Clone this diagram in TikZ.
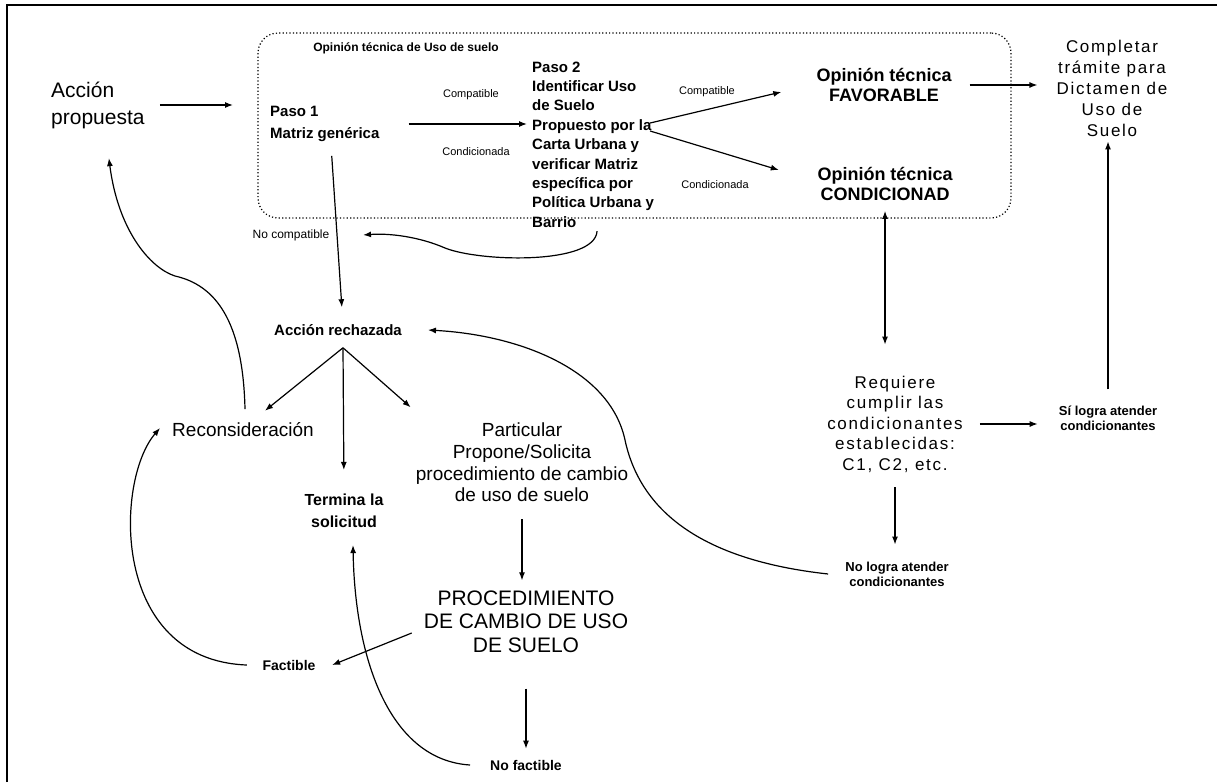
\documentclass[tikz,border=0pt]{standalone}
\usepackage{fontspec}
\setmainfont{Liberation Sans}
\newfontfamily\spacedfont[LetterSpace=10]{Liberation Sans}
\usetikzlibrary{arrows.meta,positioning}

\begin{document}
\begin{tikzpicture}[x=1pt,y=-1pt,
  lbl/.style={inner sep=0pt,align=center},
  boldlbl/.style={lbl,font=\fontsize{15}{19.4}\selectfont\bfseries},
  small/.style={lbl,font=\fontsize{11}{13}\selectfont},
  spaced/.style={lbl,font={\spacedfont\fontsize{17}{20.5}\selectfont}},
  arr/.style={-{Latex[length=8pt,width=6pt]},line width=1.2pt},
  dblarr/.style={{Latex[length=8pt,width=6pt]}-{Latex[length=8pt,width=6pt]},line width=1.2pt},
]
  \useasboundingbox (0,0) rectangle (1217,782);
  % frame
  \draw[line width=1.6pt] (7,782) -- (7,5) -- (1217,5);

  % Opinion tecnica box
  \node[draw,line width=1.2pt,dash pattern={on 1.2pt off 2.2pt},rounded corners=20pt,
    minimum width=753pt,minimum height=185pt,inner sep=0pt] (tecnica) at (634.5,125.5) {};
  \node[lbl,font=\fontsize{12}{14}\selectfont\bfseries] (titulo) at (406,48) {Opinión técnica de Uso de suelo};

  % Left column
  \node[lbl,anchor=west,align=left,font=\fontsize{21}{27}\selectfont] (accion) at (51,105) {Acción\\propuesta};
  \node[lbl,anchor=west,align=left,font=\fontsize{15}{22}\selectfont\bfseries] (paso1) at (270,124) {Paso 1\\Matriz genérica};
  \node[boldlbl,anchor=west,align=left] (paso2) at (532,144.5) {Paso 2\\Identificar Uso\\de Suelo\\Propuesto por la\\Carta Urbana y\\verificar Matriz\\específica por\\Política Urbana y\\Barrio};

  % Labels on the arrows
  \node[small] (compat1) at (471,95) {Compatible};
  \node[small] (condic1) at (476,152) {Condicionada};
  \node[small] (compat2) at (707,92) {Compatible};
  \node[small] (condic2) at (715,185) {Condicionada};
  \node[lbl,font=\fontsize{12}{14}\selectfont] (nocompat) at (291,235) {No compatible};

  % Results of the opinion
  \node[lbl,font=\fontsize{18}{20}\selectfont\bfseries] (favorable) at (884,85) {Opinión técnica\\FAVORABLE};
  \node[lbl,font=\fontsize{18}{20}\selectfont\bfseries] (condicionada) at (885,184) {Opinión técnica\\CONDICIONAD};
  \node[lbl,font={\spacedfont\fontsize{17}{21}\selectfont}] (completar) at (1112,88) {Completar\\trámite para\\Dictamen de\\Uso de\\Suelo};

  % Conditions
  \node[spaced] (requiere) at (895,424) {Requiere\\cumplir las\\condicionantes\\establecidas:\\C1, C2, etc.};
  \node[lbl,font=\fontsize{13}{15}\selectfont\bfseries] (silogra) at (1108,418) {Sí logra atender\\condicionantes};
  \node[lbl,font=\fontsize{13}{15}\selectfont\bfseries] (nologra) at (897,574) {No logra atender\\condicionantes};

  % Rejected action
  \node[boldlbl] (rechazada) at (338,330) {Acción rechazada};
  \node[lbl,font=\fontsize{19}{22}\selectfont] (recons) at (243,430) {Reconsideración};
  \node[lbl,font=\fontsize{16}{22}\selectfont\bfseries] (termina) at (344,511) {Termina la\\solicitud};
  \node[lbl,font=\fontsize{19}{21.7}\selectfont] (particular) at (522,462.5) {Particular\\Propone/Solicita\\procedimiento de cambio\\de uso de suelo};
  \node[lbl,font=\fontsize{21}{23.5}\selectfont] (procedimiento) at (526,621.5) {PROCEDIMIENTO\\DE CAMBIO DE USO\\DE SUELO};
  \node[lbl,font=\fontsize{14}{16}\selectfont\bfseries] (factible) at (289,665) {Factible};
  \node[lbl,font=\fontsize{14}{16}\selectfont\bfseries] (nofactible) at (526,765) {No factible};

  % Arrows, top part
  \draw[arr,shorten <=15pt,shorten >=37pt] (accion.east) -- (accion.east -| paso1.west);
  \draw[arr,shorten <=29pt,shorten >=5pt] (paso1.east) -- (paso1.east -| paso2.west);
  \draw[arr] ([xshift=-4pt,yshift=21.5pt]paso2.east) -- ([xshift=-35pt,yshift=-7pt]favorable.west);
  \draw[arr] ([xshift=-4pt,yshift=13.5pt]paso2.east) -- ([xshift=-38.5pt,yshift=14pt]condicionada.west);
  \draw[arr,shorten <=18pt,shorten >=19pt] (favorable.east) -- (favorable.east -| completar.west);
  \draw[arr] ([xshift=4pt,yshift=-3.5pt]paso2.south) .. controls (595,265) and (480,262) .. (445,248)
    .. controls (420,237) and (390,233) .. ([xshift=33.5pt]nocompat.east);
  \draw[arr,shorten <=14pt,shorten >=17pt] ([xshift=6pt]paso1.south) -- ([xshift=5pt]rechazada.north);

  % Arrows, conditions
  \draw[dblarr,shorten <=10pt,shorten >=31pt] (condicionada.south) -- (condicionada.south |- requiere.north);
  \draw[arr,shorten <=17pt,shorten >=21pt] (requiere.east) -- (requiere.east -| silogra.west);
  \draw[arr,shorten <=16pt,shorten >=5pt] (silogra.north) -- (silogra.north |- completar.south);
  \draw[arr,shorten <=15pt,shorten >=17pt] (requiere.south) -- (requiere.south |- nologra.north);
  \draw[arr] ([xshift=-17pt]nologra.west) .. controls (700,560) and (640,510) .. (625,440)
    .. controls (610,370) and (520,335) .. ([xshift=26pt]rechazada.east);

  % Arrows, rejected action
  \draw[arr] ([xshift=5pt,yshift=-12pt]rechazada.south) -- ([xshift=22pt,yshift=12pt]recons.north);
  \draw[arr,shorten >=24pt] ([xshift=5pt,yshift=-12pt]rechazada.south) -- (termina.north);
  \draw[arr] ([xshift=5pt,yshift=-12pt]rechazada.south) -- ([xshift=-5pt,yshift=15.5pt]particular.north west);
  \draw[arr,shorten <=17pt,shorten >=10pt] (particular.south) -- (particular.south |- procedimiento.north);
  \draw[arr] ([xshift=-12pt,yshift=-11.5pt]procedimiento.west) -- ([xshift=16.5pt]factible.east);
  \draw[arr,shorten <=36pt,shorten >=11pt] (procedimiento.south) -- (procedimiento.south |- nofactible.north);
  \draw[arr] ([xshift=-15.5pt]factible.west) .. controls (110,660) and (115,480) .. ([xshift=-12pt,yshift=2pt]recons.west);
  \draw[arr] ([xshift=-20pt]nofactible.west) .. controls (390,760) and (355,660) .. ([xshift=9pt,yshift=-17pt]termina.south);
  \draw[arr] ([xshift=2pt,yshift=13.5pt]recons.north) .. controls (243,320) and (215,285) .. (175,276)
    .. controls (150,268) and (118,230) .. ([xshift=11pt,yshift=-29.5pt]accion.south);
\end{tikzpicture}
\end{document}
